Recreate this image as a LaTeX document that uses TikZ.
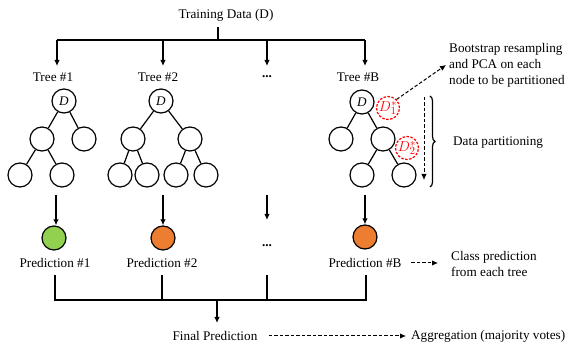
\documentclass[tikz,border=0pt]{standalone}
\usepackage{fontspec}
\setmainfont{Liberation Serif}
\usetikzlibrary{arrows.meta,decorations.pathreplacing}
\begin{document}
\begin{tikzpicture}[x=1pt,y=-1pt,
  every node/.style={font=\fontsize{13.2}{16}\selectfont},
  ln/.style={line width=1.2pt},
  arr/.style={ln,-{Latex[length=6pt,width=5.5pt]}},
  darr/.style={line width=1pt,dashed,dash pattern=on 3.5pt off 2pt,-{Latex[length=6pt,width=5.5pt]}},
  tn/.style={circle,draw,line width=1.2pt,minimum size=24pt,inner sep=0pt},
  rn/.style={circle,draw=red,dashed,dash pattern=on 2.5pt off 1.5pt,line width=1.2pt,minimum size=23pt,inner sep=0pt,text=red,font=\fontsize{15}{16}\selectfont},
  pred/.style={circle,draw,line width=1.2pt,minimum size=24pt,inner sep=0pt},
  lbl/.style={align=left,anchor=west,inner sep=0pt}]
\useasboundingbox (0,0) rectangle (571,347);
% title
\node (title) at (226,15) {Training Data (D)};
\coordinate (tj) at (218,40);
\coordinate (t1) at (57,40);
\coordinate (t2) at (163,40);
\coordinate (t3) at (267,40);
\coordinate (t4) at (365,40);
\draw[ln] (218,27) -- (tj);
\draw[ln] (t1) -- (t4);
\node (tree1) at (53,77) {Tree \#1};
\node (tree2) at (158,77) {Tree \#2};
\node (treed) at (267,77) {\textbf{...}};
\node (treeB) at (358,77) {Tree \#B};
\draw[arr] (t1) -- (57,66);
\draw[arr] (t2) -- (163,66);
\draw[arr] (t3) -- (267,66);
\draw[arr] (t4) -- (365,66);
% tree 1
\node[tn] (a0) at (64,101) {\textit{D}};
\node[tn] (a1) at (42,139) {};
\node[tn] (a2) at (84,139) {};
\node[tn] (a3) at (20,175) {};
\node[tn] (a4) at (62,175) {};
\draw[ln] (a0) -- (a1) (a0) -- (a2) (a1) -- (a3) (a1) -- (a4);
% tree 2
\node[tn] (b0) at (161,101) {\textit{D}};
\node[tn] (b1) at (133,139) {};
\node[tn] (b2) at (190,139) {};
\node[tn] (b3) at (120,175) {};
\node[tn] (b4) at (147,175) {};
\node[tn] (b5) at (176,175) {};
\node[tn] (b6) at (206,175) {};
\draw[ln] (b0) -- (b1) (b0) -- (b2) (b1) -- (b3) (b1) -- (b4) (b2) -- (b5) (b2) -- (b6);
% tree B
\node[tn] (c0) at (362,102) {\textit{D}};
\node[tn] (c1) at (341,139) {};
\node[tn] (c2) at (383,139) {};
\node[tn] (c3) at (362,175) {};
\node[tn] (c4) at (404,175) {};
\draw[ln] (c0) -- (c1) (c0) -- (c2) (c2) -- (c3) (c2) -- (c4);
\node[rn] (r1) at (388,108) {$D_1^*$};
\node[rn] (r2) at (407,148) {$D_2^*$};
% annotations
\node[lbl] (boot) at (449,65) {Bootstrap resampling\\and PCA on each\\node to be partitioned};
\coordinate (bootp) at (446,65);
\draw[darr] (r1.north east) -- (bootp);
\coordinate (dtop) at (424,97);
\coordinate (dbot) at (424,180);
\draw[darr] (dtop) -- (dbot);
\draw[ln,decorate,decoration={brace,amplitude=5pt}] (430,96) -- (430,187);
\node[lbl] (dpart) at (453,143) {Data partitioning};
% prediction arrows
\coordinate (p1s) at (56,195);
\coordinate (p2s) at (163,195);
\coordinate (p3s) at (267,195);
\coordinate (p4s) at (365,195);
\node[pred,fill={rgb,255:red,146;green,208;blue,80}] (g1) at (54,238) {};
\node[pred,fill={rgb,255:red,237;green,125;blue,49}] (g2) at (163,238) {};
\node (g3) at (267,246) {\textbf{...}};
\node[pred,fill={rgb,255:red,237;green,125;blue,49}] (g4) at (365,237) {};
\draw[arr] (p1s) -- (g1.north -| p1s);
\draw[arr] (p2s) -- (g2.north);
\draw[arr] (p3s) -- (267,220);
\draw[arr] (p4s) -- (g4.north);
\node (pr1) at (55,263) {Prediction \#1};
\node (pr2) at (162,263) {Prediction \#2};
\node (prB) at (365,263) {Prediction \#B};
\node[lbl] (cls) at (451,264) {Class prediction\\from each tree};
\coordinate (clsp) at (438,263);
\draw[darr] (411,263) -- (clsp);
% join
\coordinate (j1) at (55,300);
\coordinate (j2) at (162,300);
\coordinate (j3) at (267,300);
\coordinate (j4) at (366,300);
\coordinate (jm) at (217,300);
\draw[ln] (55,275) -- (j1) -- (j4) -- (366,275);
\draw[ln] (j2) -- (162,275);
\draw[ln] (j3) -- (267,275);
\node (final) at (215,336) {Final Prediction};
\draw[arr] (jm) -- (217,323);
\node[lbl] (agg) at (411,336) {Aggregation (majority votes)};
\coordinate (aggp) at (406,336);
\draw[darr] (final.east) ++(8,0) -- (aggp);
\end{tikzpicture}
\end{document}
